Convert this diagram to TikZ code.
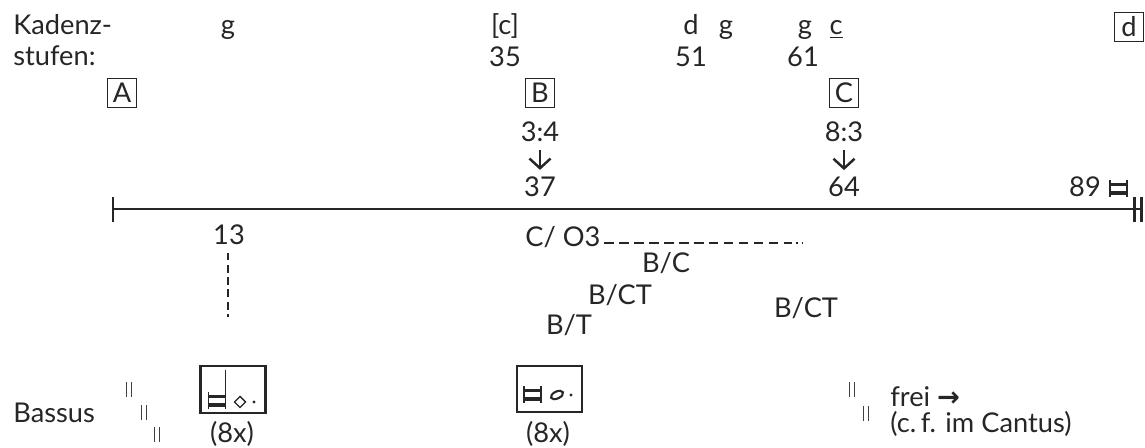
\documentclass[tikz,border=0pt]{standalone}
\usepackage{fontspec}
\setmainfont{Lato}
\newfontfamily\symfont{DejaVu Sans}
\usetikzlibrary{arrows.meta}

\begin{document}
\begin{tikzpicture}[x=0.02cm,y=-0.02cm,
  every node/.style={font=\fontsize{15.5}{18}\selectfont, text=black!85, inner sep=0pt},
  lbl/.style={anchor=base},
  boxlbl/.style={draw=black!85, line width=.55pt, minimum width=17pt, minimum height=16.5pt},
  notebox/.style={draw=black!85, line width=1.3pt, minimum width=37pt, minimum height=26.5pt},
  pfeil/.style={-{Straight Barb[length=5.5pt,width=12pt]}, line width=1.4pt, black!85,
    shorten <=4pt, shorten >=4pt},
  vdash/.style={dash pattern=on 4.5pt off 2.5pt, line width=.8pt, black!85},
  hdash/.style={dash pattern=on 5.5pt off 3pt, line width=.8pt, black!85},
  brevis/.pic={
    \fill[black!85] (-8.5,-6) rectangle (8.5,-2.5);
    \fill[black!85] (-8.5,2.5) rectangle (8.5,6);
    \draw[black!85, line width=.8pt] (-8.5,-8.5) -- (-8.5,8.5) (8.5,-8.5) -- (8.5,8.5);
  },
  dbar/.pic={
    \draw[black!75, line width=.65pt] (-2.5,-7.5) -- (-2.5,7.5) (2.5,-7.5) -- (2.5,7.5);
  }]
\useasboundingbox (0,0) rectangle (1145,448);

% Kadenzstufen
\node[anchor=base west] (kad1) at (13,35) {Kadenz-};
\node[anchor=base west] (kad2) at (13,66) {stufen:};
\node[lbl] (g1) at (228,35) {g};
\node[lbl] (c1) at (505,35) {[c]};
\node[lbl] (d1) at (691,35) {d};
\node[lbl] (g2) at (726,35) {g};
\node[lbl] (g3) at (805,35) {g};
\node[lbl] (c2) at (836,35) {\underline{c}};
\node[lbl] (t35) at (505,67) {35};
\node[lbl] (t51) at (691,67) {51};
\node[lbl] (t61) at (803,67) {61};
\node[boxlbl] (bd) at (1129,27) {d};

% Abschnitte
\node[boxlbl] (bA) at (122,93) {A};
\node[boxlbl] (bB) at (540,93) {B};
\node[boxlbl] (bC) at (844,93) {C};
\node[lbl] (r34) at (540,142) {3:4};
\node[lbl] (b37) at (540,197) {37};
\node[lbl] (r83) at (844,142) {8:3};
\node[lbl] (b64) at (844,197) {64};
\draw[pfeil] (r34) -- (b37);
\draw[pfeil] (r83) -- (b64);
\node[lbl] (b89) at (1085,197) {89};
\pic at (1118.5,189) {brevis};

% Zeitleiste
\coordinate (anf) at (113,209);
\coordinate (ende) at (1141,209);
\draw[line width=1.7pt, black!85] (anf) -- (ende);
\draw[line width=1.7pt, black!85] (113,197) -- (113,222);
\draw[line width=1.7pt, black!85] (1134,197) -- (1134,222) (1141,197) -- (1141,222);

% unter der Linie
\node[lbl] (n13) at (229,245) {13};
\coordinate (e13) at (228,317);
\draw[vdash] (n13.south -| e13) ++(0,7) -- (e13);
\node[anchor=base west] (co3) at (525,247) {C/ O3};
\coordinate (e1) at (791,243);
\coordinate (e2) at (806,243);
\draw[hdash] ([xshift=2pt]co3.east |- e1) -- (e1);
\draw[dash pattern=on .8pt off 2.2pt, line width=.8pt, black!85] (e1) -- (e2);
\node[lbl] (bc) at (666,273) {B/C};
\node[lbl] (bct1) at (620,305) {B/CT};
\node[lbl] (bt) at (569,335) {B/T};
\node[lbl] (bct2) at (806,318) {B/CT};

% Bassus
\node[anchor=base west] (bass) at (13,423) {Bassus};
\pic at (129,390) {dbar};
\pic at (144,413) {dbar};
\pic at (157,435) {dbar};
\node[notebox] (m1) at (233,389.5) {};
\pic at (217,401) {brevis};
\draw[black!85, line width=.8pt] (225.5,370) -- (225.5,409);
\draw[black!85, line width=.8pt] (240,396.5) -- (245.5,402) -- (240,407.5) -- (234.5,402) -- cycle;
\fill[black!85] (254,402) circle (1.6);
\node[lbl] (x1) at (232,443) {(8x)};
\node[notebox] (m2) at (549.5,389) {};
\pic at (532.5,395) {brevis};
\draw[black!85, line width=1.2pt, rotate around={25:(557,395)}] (557,395) ellipse (6.5 and 3.5);
\fill[black!85] (571,395) circle (1.6);
\node[lbl] (x2) at (548,443) {(8x)};
\pic at (852,390) {dbar};
\pic at (866,414) {dbar};
\node[anchor=base west] (frei) at (890,407) {frei {\symfont\bfseries→}};
\node[anchor=base west] (cf) at (890,433) {(c.\,f. im Cantus)};
\end{tikzpicture}
\end{document}
